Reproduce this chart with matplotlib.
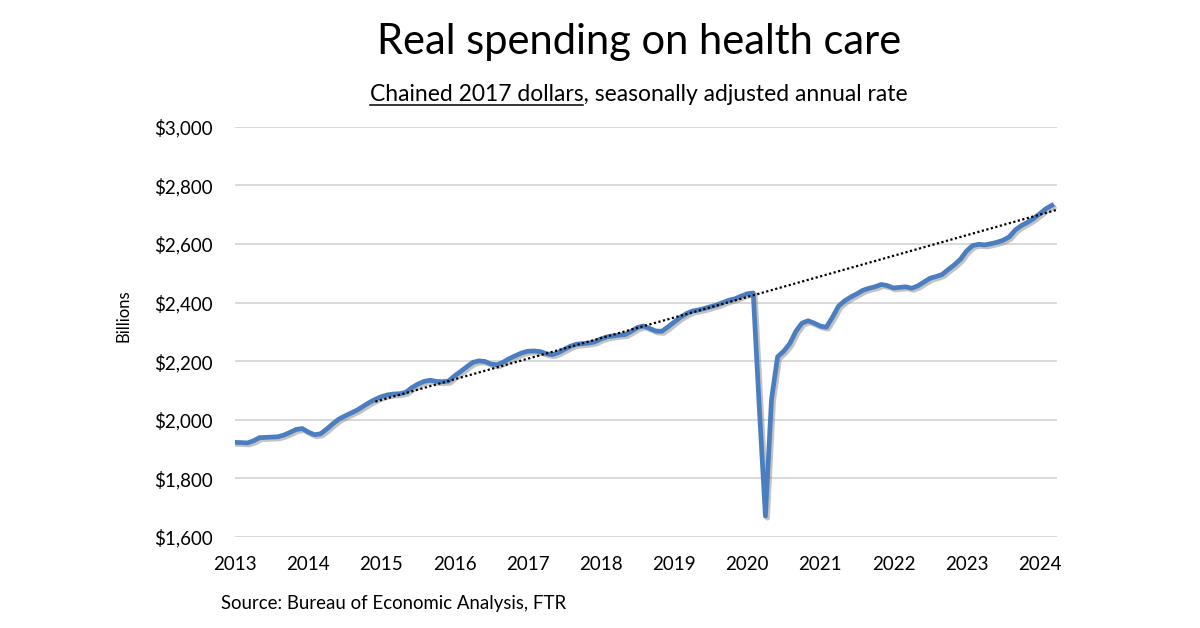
import matplotlib.pyplot as plt
import matplotlib.patheffects as pe
import numpy as np

plt.rcParams['font.family'] = ['Lato', 'DejaVu Sans']

# Real PCE on health care, billions of chained 2017 dollars (SAAR), monthly from Jan 2013
start_year = 2013
spending = [
    1923, 1922, 1921, 1928, 1939, 1940, 1941, 1942, 1948, 1957, 1967, 1970,  # 2013
    1958, 1949, 1952, 1968, 1986, 2002, 2013, 2023, 2033, 2046, 2059, 2070,  # 2014
    2079, 2085, 2088, 2089, 2094, 2110, 2122, 2131, 2135, 2131, 2130, 2132,  # 2015
    2150, 2165, 2181, 2196, 2201, 2199, 2190, 2188, 2197, 2209, 2219, 2228,  # 2016
    2234, 2235, 2233, 2226, 2222, 2229, 2240, 2251, 2258, 2260, 2262, 2266,  # 2017
    2276, 2283, 2286, 2289, 2291, 2302, 2315, 2320, 2312, 2303, 2302, 2317,  # 2018
    2333, 2349, 2362, 2371, 2375, 2380, 2386, 2392, 2400, 2408, 2413, 2422,  # 2019
    2430, 2433, 2040, 1671, 2070, 2215, 2234, 2260, 2302, 2330, 2338, 2330,  # 2020
    2320, 2316, 2350, 2388, 2406, 2419, 2430, 2442, 2449, 2454, 2462, 2458,  # 2021
    2450, 2452, 2454, 2449, 2457, 2470, 2483, 2489, 2496, 2513, 2529, 2548,  # 2022
    2576, 2595, 2599, 2597, 2601, 2606, 2613, 2624, 2648, 2663, 2674, 2687,  # 2023
    2703, 2720, 2732,                                                        # 2024
]
year_ticks = list(range(2013, 2025))
y_ticks = [1600, 1800, 2000, 2200, 2400, 2600, 2800, 3000]

# pre-pandemic trend: Dec 2014 through Feb 2020, extended to the right edge
trend_from, trend_to = 23, 85   # month indexes
x_end = 2024.24

t = start_year + np.arange(len(spending)) / 12
y = np.array(spending, dtype=float)
slope = (y[trend_to] - y[trend_from]) / (t[trend_to] - t[trend_from])
trend_x = np.array([t[trend_from], x_end])
trend_y = y[trend_from] - 8 + slope * (trend_x - t[trend_from])

fig = plt.figure(figsize=(12, 6.28), dpi=100)
ax = fig.add_axes([0.196, 0.145, 0.685, 0.653])

ax.plot(t, y, color='#4a7ebf', lw=3.4, solid_joinstyle='round', zorder=3,
        path_effects=[pe.SimpleLineShadow(offset=(1.5, -1.5), shadow_color='#888888', alpha=0.5),
                      pe.Normal()])
ax.plot(trend_x, trend_y, color='black', lw=1.6, linestyle=(0, (1, 1.1)), zorder=4)

ax.set_xlim(start_year, x_end)
ax.set_ylim(1600, 3000)
ax.set_xticks(year_ticks)
ax.set_xticklabels([str(v) for v in year_ticks])
ax.set_yticks(y_ticks)
ax.set_yticklabels(['${:,}'.format(v) for v in y_ticks])
ax.tick_params(length=0, labelsize=13.5, colors='#000000')
ax.tick_params(axis='x', pad=14)
ax.tick_params(axis='y', pad=16)
ax.grid(axis='y', color='#d9d9d9', lw=1.4)
ax.set_axisbelow(True)
for s in ax.spines.values():
    s.set_visible(False)

fig.text(123 / 1200, 1 - 316 / 628, 'Billions', rotation=90, ha='center', va='center', fontsize=12)

fig.text(0.533, 1 - 54 / 628, 'Real spending on health care', ha='center', va='baseline', fontsize=30)
sub_y = 1 - 101 / 628
sub = fig.text(0.532, sub_y, 'Chained 2017 dollars, seasonally adjusted annual rate',
               ha='center', va='baseline', fontsize=16.5)
fig.text(221 / 1200, 1 - 609 / 628, 'Source: Bureau of Economic Analysis, FTR',
         ha='left', va='baseline', fontsize=13.4)

# underline the first part of the subtitle
fig.canvas.draw()
r = fig.canvas.get_renderer()
bb = sub.get_window_extent(r)
part = fig.text(0, 0, 'Chained 2017 dollars', fontsize=16.5)
w = part.get_window_extent(r).width
part.remove()
uy = sub_y - 4 / 628
fig.add_artist(plt.Line2D([bb.x0 / fig.bbox.width, (bb.x0 + w) / fig.bbox.width],
                          [uy, uy], color='black', lw=1.1))

fig.savefig('out.png', dpi=100)
